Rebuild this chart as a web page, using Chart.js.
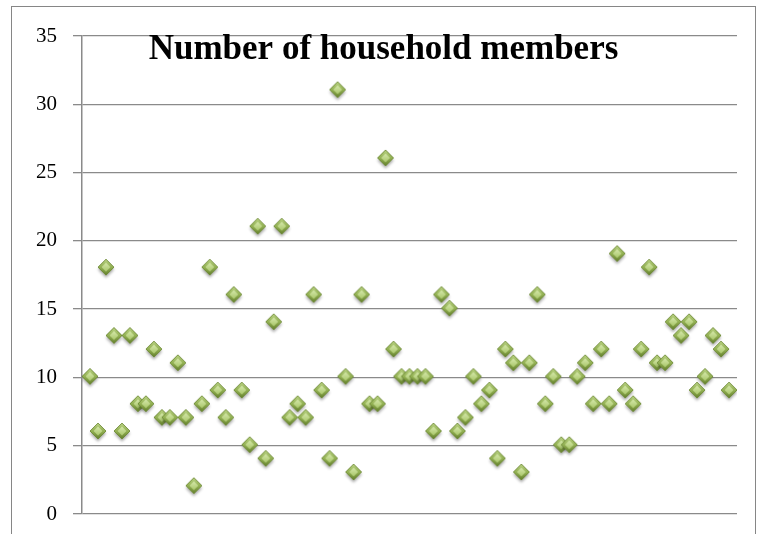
<!DOCTYPE html>
<html lang="en-us">
<head>
<meta name="viewport" content="width=device-width, initial-scale=1.0">
<meta charset="UTF-8">
<title>Number of household members</title>
<script src="https://cdn.jsdelivr.net/npm/chart.js"></script>

<style>
	body {padding: 0; margin: 0; background: #fff; overflow: hidden;}
	#frame {position: absolute; left: 11px; top: 6px; width: 743px; height: 560px; border: 1px solid #868686;}
	#chartContainer {width: 743px; height: 560px;}
</style>
</head>
<body>

<div id="frame">
	<div id="chartContainer">
		<canvas id="myChart"></canvas>
	</div>
</div>

<script>
// household size of each respondent, in survey order
var householdMembers = [
	10, 6, 18, 13, 6, 13, 8, 8, 12, 7,
	7, 11, 7, 2, 8, 18, 9, 7, 16, 9,
	5, 21, 4, 14, 21, 7, 8, 7, 16, 9,
	4, 31, 10, 3, 16, 8, 8, 26, 12, 10,
	10, 10, 10, 6, 16, 15, 6, 7, 10, 8,
	9, 4, 12, 11, 3, 11, 16, 8, 10, 5,
	5, 10, 11, 8, 12, 8, 19, 9, 8, 12,
	18, 11, 11, 14, 13, 14, 9, 10, 13, 12,
	9
];
var respondentNo = householdMembers.map(function(v, i) { return i + 1; });
var yTicks = [0, 5, 10, 15, 20, 25, 30, 35];
var chartTitle = 'Number of household members';

// bevelled green diamond used as the marker
function makeDiamond() {
	var c = document.createElement('canvas');
	c.width = 26; c.height = 26;
	var g = c.getContext('2d');
	var cx = 13, cy = 12, r = 8;

	function diamond(rad) {
		g.beginPath();
		g.moveTo(cx, cy - rad);
		g.lineTo(cx + rad, cy);
		g.lineTo(cx, cy + rad);
		g.lineTo(cx - rad, cy);
		g.closePath();
	}

	// soft shadow
	g.save();
	g.shadowColor = 'rgba(0,0,0,0.35)';
	g.shadowBlur = 3;
	g.shadowOffsetY = 2.5;
	diamond(r);
	g.fillStyle = '#7e9b43';
	g.fill();
	g.restore();

	// outer facets
	var outer = g.createLinearGradient(0, cy - r, 0, cy + r);
	outer.addColorStop(0, '#b9d283');
	outer.addColorStop(0.5, '#93b153');
	outer.addColorStop(1, '#637f2c');
	diamond(r);
	g.fillStyle = outer;
	g.fill();
	g.lineWidth = 0.8;
	g.strokeStyle = '#6b8734';
	g.stroke();

	// top face
	var inner = g.createLinearGradient(0, cy - r * 0.55, 0, cy + r * 0.55);
	inner.addColorStop(0, '#d6e8ab');
	inner.addColorStop(1, '#a9c76a');
	diamond(r * 0.55);
	g.fillStyle = inner;
	g.fill();
	return c;
}

// title sits inside the plot area, centred on the frame
var titlePlugin = {
	id: 'innerTitle',
	afterDraw: function(chart) {
		var ctx = chart.ctx;
		ctx.save();
		ctx.font = 'bold 35px "Liberation Serif", serif';
		ctx.fillStyle = '#000';
		ctx.textAlign = 'center';
		ctx.textBaseline = 'alphabetic';
		ctx.fillText(chartTitle, chart.width / 2, 52);
		ctx.restore();
	}
};

var points = householdMembers.map(function(v, i) { return {x: respondentNo[i], y: v}; });

var chartCtx = document.getElementById('myChart').getContext('2d');
var myChart = new Chart(chartCtx, {
	type: 'scatter',
	data: {
		datasets: [{
			label: chartTitle,
			data: points,
			pointStyle: makeDiamond(),
			pointRadius: 8,
			pointHoverRadius: 8
		}]
	},
	options: {
		responsive: true,
		maintainAspectRatio: false,
		animation: false,
		layout: {padding: {left: 0, top: 29, right: 18, bottom: 53}},
		plugins: {
			legend: {display: false},
			tooltip: {enabled: false},
			title: {display: false}
		},
		scales: {
			x: {
				type: 'linear',
				min: 0,
				max: 82,
				display: false
			},
			y: {
				min: yTicks[0],
				max: yTicks[yTicks.length - 1],
				afterBuildTicks: function(scale) {
					scale.ticks = yTicks.map(function(v) { return {value: v}; });
				},
				afterFit: function(scale) { scale.width = 70; },
				grid: {
					color: '#8a8a8a',
					lineWidth: 1.3,
					tickLength: 9,
					drawTicks: true
				},
				border: {display: true, color: '#8a8a8a', width: 1.5},
				ticks: {
					color: '#000',
					padding: 16,
					font: {family: '"Liberation Serif", serif', size: 21}
				}
			}
		}
	},
	plugins: [titlePlugin]
});
</script>

</body>
</html>
